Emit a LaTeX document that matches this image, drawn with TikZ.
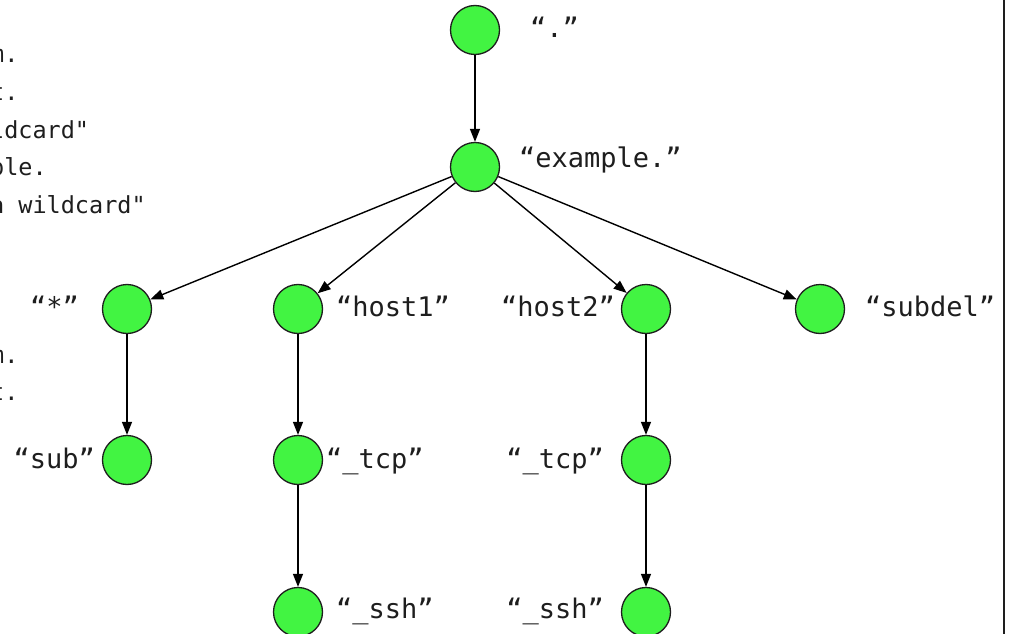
\documentclass[tikz,border=0pt]{standalone}
\usepackage{fontspec}
\usetikzlibrary{arrows.meta}
\newfontfamily\labelfont{DejaVu Sans Mono}
\newfontfamily\zonefont{DejaVu Sans Mono}
\definecolor{nodegreen}{RGB}{66,244,66}
\definecolor{inkgray}{RGB}{30,30,30}

\tikzset{
  dnsnode/.style={circle, draw=inkgray, line width=1.3pt, fill=nodegreen,
                  inner sep=0pt, minimum size=49pt},
  namelabel/.style={inner sep=0pt, font=\labelfont\fontsize{27}{27}\selectfont, text=inkgray},
  zoneline/.style={inner sep=0pt, anchor=base west,
                   font=\zonefont\fontsize{23.5}{23.5}\selectfont, text=inkgray},
  link/.style={draw=black, line width=1.4pt, -{Triangle[length=13pt,width=10pt]}}
}

\begin{document}
\begin{tikzpicture}[x=1pt,y=-1pt]
  \useasboundingbox (0,0) rectangle (1010,634);
  \clip (0,0) rectangle (1010,634);

  % record data column of the zone file
  \node[zoneline] (z1) at (-194,63)  {ns.example.com.};
  \node[zoneline] (z2) at (-194,100.5) {ns.example.net.};
  \node[zoneline] (z3) at (-194,138) {"this is a wildcard"};
  \node[zoneline] (z4) at (-194,175.5) {10 host1.example.};
  \node[zoneline] (z5) at (-194,213) {"this is not a wildcard"};
  \node[zoneline] (z6) at (-194,363) {ns.example.com.};
  \node[zoneline] (z7) at (-194,400.5) {ns.example.net.};

  % tree of names
  \node[dnsnode] (root)   at (475,30)  {};
  \node[dnsnode] (ex)     at (475,167) {};
  \node[dnsnode] (star)   at (127,309) {};
  \node[dnsnode] (host1)  at (298,309) {};
  \node[dnsnode] (host2)  at (646,309) {};
  \node[dnsnode] (subdel) at (820,309) {};
  \node[dnsnode] (sub)    at (127,460) {};
  \node[dnsnode] (tcp1)   at (298,460) {};
  \node[dnsnode] (tcp2)   at (646,460) {};
  \node[dnsnode] (ssh1)   at (298,612) {};
  \node[dnsnode] (ssh2)   at (646,612) {};

  % labels
  \node[namelabel, anchor=base west] (lroot)   at (530,38)  {“.”};
  \node[namelabel, anchor=base west] (lex)     at (519,167) {“example.”};
  \node[namelabel, anchor=base east] (lstar)   at (79,316)  {“*”};
  \node[namelabel, anchor=base west] (lhost1)  at (336,316) {“host1”};
  \node[namelabel, anchor=base east] (lhost2)  at (615,316) {“host2”};
  \node[namelabel, anchor=base west] (lsubdel) at (865,316) {“subdel”};
  \node[namelabel, anchor=base east] (lsub)    at (95,468)  {“sub”};
  \node[namelabel, anchor=base west] (ltcp1)   at (326,468) {“\_tcp”};
  \node[namelabel, anchor=base east] (ltcp2)   at (604,468) {“\_tcp”};
  \node[namelabel, anchor=base west] (lssh1)   at (336,618) {“\_ssh”};
  \node[namelabel, anchor=base east] (lssh2)   at (604,618) {“\_ssh”};

  % delegation edges
  \draw[link] (root) -- (ex);
  \draw[link] (ex) -- (star);
  \draw[link] (ex) -- (host1);
  \draw[link] (ex) -- (host2);
  \draw[link] (ex) -- (subdel);
  \draw[link] (star) -- (sub);
  \draw[link] (host1) -- (tcp1);
  \draw[link] (tcp1) -- (ssh1);
  \draw[link] (host2) -- (tcp2);
  \draw[link] (tcp2) -- (ssh2);

  % frame edge on the right
  \coordinate (frametop) at (1004,0);
  \coordinate (framebot) at (1004,634);
  \draw[inkgray, line width=1.5pt] (frametop) -- (framebot);
\end{tikzpicture}
\end{document}
